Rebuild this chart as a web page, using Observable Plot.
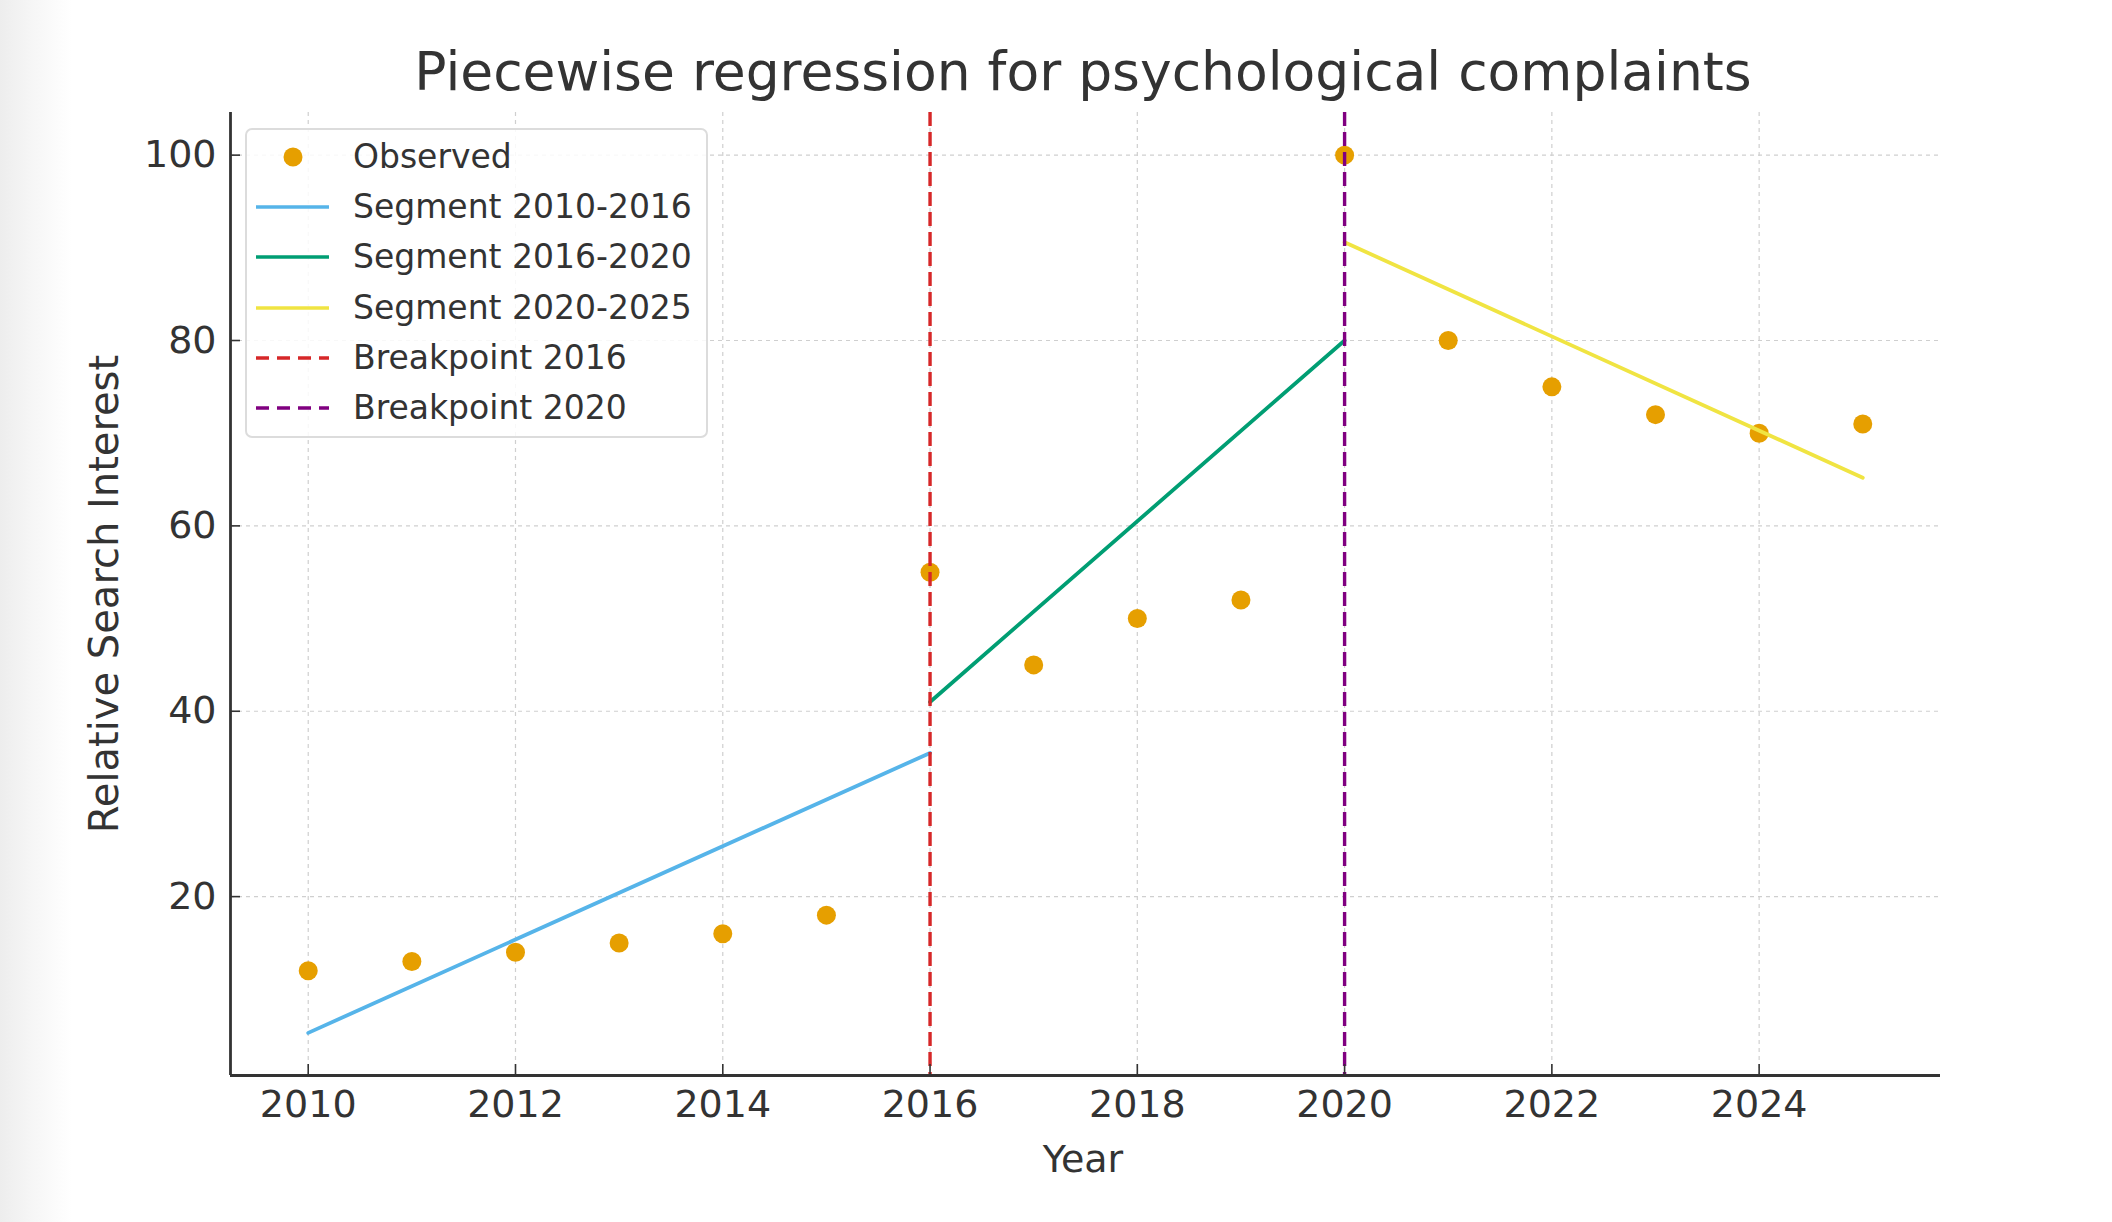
<!DOCTYPE html>
<html>
<head>
<meta charset="utf-8">
<script src="https://cdn.jsdelivr.net/npm/d3@7"></script>
<script src="https://cdn.jsdelivr.net/npm/@observablehq/plot@0.6"></script>
<style>
  html, body { margin: 0; padding: 0; background: #fff; }
  #wrap { position: relative; width: 2112px; height: 1222px; overflow: hidden; font-family: "DejaVu Sans", sans-serif; color: #333; }
  #shade { position: absolute; left: 0; top: 0; width: 72px; height: 100%; background: linear-gradient(to right, #ededed 0%, #f6f6f6 45%, #ffffff 100%); }
  #chart { position: absolute; left: 0; top: 0; }
  #title { position: absolute; left: 0; width: 2166px; top: 39px; text-align: center; font-size: 53.5px; line-height: 66px; color: #333; white-space: nowrap; }
  #xlabel { position: absolute; left: 0; width: 2166px; top: 1136px; text-align: center; font-size: 38px; line-height: 46px; color: #333; }
  #ylabel { position: absolute; left: 104px; top: 594px; transform: translate(-50%, -50%) rotate(-90deg); font-size: 40px; line-height: 46px; color: #333; white-space: nowrap; }
  #legend { position: absolute; left: 245px; top: 128px; width: 463px; height: 310px; box-sizing: border-box; border: 2px solid #dcdcdc; border-radius: 7px; background: rgba(255,255,255,0.85); }
  .row { position: absolute; left: 0; height: 50px; }
  .row svg { position: absolute; left: 9px; top: 0; }
  .row span { position: absolute; left: 106px; font-size: 33px; white-space: nowrap; color: #333; line-height: 50px; top: 0; }
</style>
</head>
<body>
<div id="wrap">
  <div id="shade"></div>
  <div id="chart"></div>
  <div id="title"></div>
  <div id="xlabel"></div>
  <div id="ylabel"></div>
  <div id="legend"></div>
</div>
<script>
// ---- data ----
const titleText = "Piecewise regression for psychological complaints";
const xLabelText = "Year";
const yLabelText = "Relative Search Interest";

const years    = [2010, 2011, 2012, 2013, 2014, 2015, 2016, 2017, 2018, 2019, 2020, 2021, 2022, 2023, 2024, 2025];
const observed = [12, 13, 14, 15, 16, 18, 55, 45, 50, 52, 100, 80, 75, 72, 70, 71];

const seg1Years = [2010, 2016];
const seg1Vals  = [5.3, 35.5];
const seg2Years = [2016, 2020];
const seg2Vals  = [41.0, 80.0];
const seg3Years = [2020, 2025];
const seg3Vals  = [90.6, 65.2];

const breakpoints = [2016, 2020];

const xTicks = [2010, 2012, 2014, 2016, 2018, 2020, 2022, 2024];
const yTicks = [20, 40, 60, 80, 100];

const xDomain = [2009.25, 2025.75];
const yDomain = [0.7, 104.6];

const legendLabels = ["Observed", "Segment 2010-2016", "Segment 2016-2020", "Segment 2020-2025", "Breakpoint 2016", "Breakpoint 2020"];

// ---- colours / styles ----
const cObs = "#E69F00", c1 = "#56B4E9", c2 = "#009E73", c3 = "#F0E442", cB16 = "#d62728", cB20 = "#800080";
const axisColor = "#333333";
const dash = "14,6";

const obs = years.map((y, i) => ({year: y, value: observed[i]}));
const seg = (ys, vs) => ys.map((y, i) => ({year: y, value: vs[i]}));

const plot = Plot.plot({
  width: 2112,
  height: 1222,
  marginLeft: 230,
  marginRight: 172,
  marginTop: 112,
  marginBottom: 147,
  x: {domain: xDomain},
  y: {domain: yDomain},
  style: {background: "transparent", fontFamily: "DejaVu Sans, sans-serif", fontSize: "38px", color: axisColor},
  marks: [
    Plot.gridX(xTicks, {stroke: "#cfcfcf", strokeOpacity: 1, strokeWidth: 1.2, strokeDasharray: "4,4"}),
    Plot.gridY(yTicks, {stroke: "#cfcfcf", strokeOpacity: 1, strokeWidth: 1.2, strokeDasharray: "4,4"}),
    Plot.dot(obs, {x: "year", y: "value", r: 9.5, fill: cObs, stroke: "none"}),
    Plot.line(seg(seg1Years, seg1Vals), {x: "year", y: "value", stroke: c1, strokeWidth: 3.8}),
    Plot.line(seg(seg2Years, seg2Vals), {x: "year", y: "value", stroke: c2, strokeWidth: 3.8}),
    Plot.line(seg(seg3Years, seg3Vals), {x: "year", y: "value", stroke: c3, strokeWidth: 3.8}),
    Plot.ruleX([breakpoints[0]], {stroke: cB16, strokeWidth: 3.4, strokeDasharray: dash}),
    Plot.ruleX([breakpoints[1]], {stroke: cB20, strokeWidth: 3.4, strokeDasharray: dash}),
    // tick labels
    Plot.axisX(xTicks, {tickSize: 0, tickPadding: 15, tickFormat: d => String(d), label: null, fontSize: 38, fill: axisColor}),
    Plot.axisY(yTicks, {tickSize: 0, tickPadding: 14, tickFormat: d => String(d), label: null, fontSize: 38, fill: axisColor}),
    // inward tick marks
    Plot.axisX(xTicks, {tickSize: 11, dy: -11, tickFormat: () => "", label: null, stroke: axisColor, strokeWidth: 1.6}),
    Plot.axisY(yTicks, {tickSize: 10, dx: 10, tickFormat: () => "", label: null, stroke: axisColor, strokeWidth: 1.6}),
    // spines
    Plot.ruleY([yDomain[0]], {stroke: axisColor, strokeWidth: 2.8}),
    Plot.ruleX([xDomain[0]], {stroke: axisColor, strokeWidth: 2.8})
  ]
});
document.getElementById("chart").appendChild(plot);

document.getElementById("title").textContent = titleText;
document.getElementById("xlabel").textContent = xLabelText;
document.getElementById("ylabel").textContent = yLabelText;

// ---- legend ----
const legend = document.getElementById("legend");
const swatches = [
  {type: "dot", color: cObs},
  {type: "line", color: c1},
  {type: "line", color: c2},
  {type: "line", color: c3},
  {type: "dash", color: cB16},
  {type: "dash", color: cB20}
];
legendLabels.forEach((lab, i) => {
  const row = document.createElement("div");
  row.className = "row";
  row.style.top = (2 + i * 50.2) + "px";
  row.style.width = "100%";
  const sw = swatches[i];
  let g;
  if (sw.type === "dot") g = `<circle cx="37" cy="25" r="9.5" fill="${sw.color}"/>`;
  else if (sw.type === "line") g = `<line x1="0" x2="73" y1="25" y2="25" stroke="${sw.color}" stroke-width="3.6"/>`;
  else g = `<line x1="0" x2="73" y1="25" y2="25" stroke="${sw.color}" stroke-width="3.6" stroke-dasharray="13,8"/>`;
  row.innerHTML = `<svg width="80" height="50">${g}</svg><span></span>`;
  row.querySelector("span").textContent = lab;
  legend.appendChild(row);
});
</script>
</body>
</html>
